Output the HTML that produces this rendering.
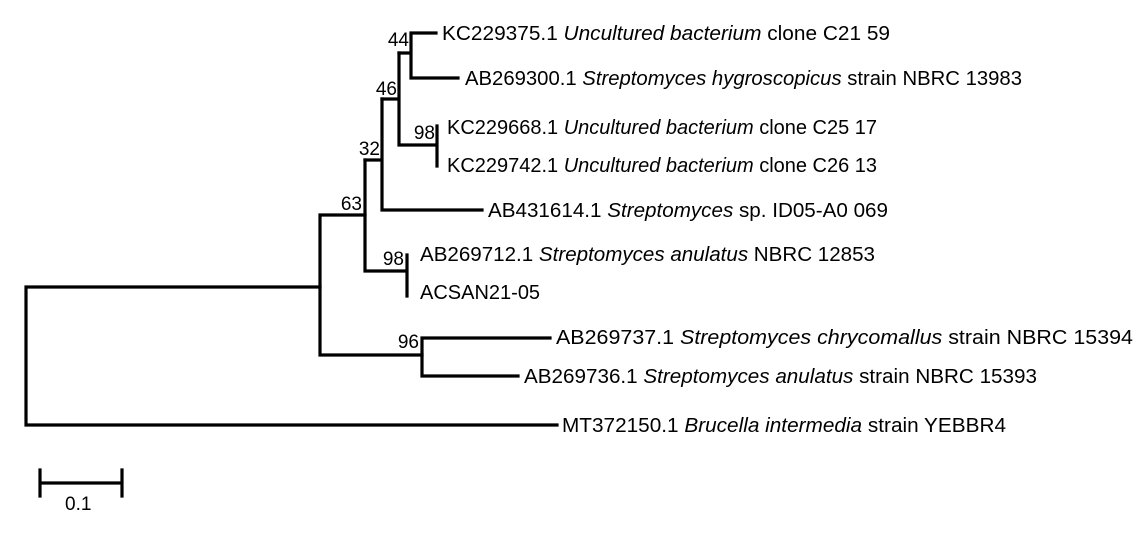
<!DOCTYPE html>
<html><head><meta charset="utf-8"><style>
html,body{margin:0;padding:0;background:#fff;}
svg{display:block;}
text{font-family:"Liberation Sans",Arial,sans-serif;font-size:20px;fill:#000;}
.n{text-anchor:end;font-size:19px;}
</style></head><body>
<svg width="1145" height="538" viewBox="0 0 1145 538" xmlns="http://www.w3.org/2000/svg">
<g stroke="#000" stroke-width="3.2" fill="none" stroke-linecap="square">
<path d="M26 287 V425 M26 287 H320 M26 425 H557"/>
<path d="M320 215 V355 M320 215 H365 M320 355 H422"/>
<path d="M422 338 V376 M422 338 H550 M422 376 H518"/>
<path d="M365 160 V271 M365 271 H407 M407 255 V296"/>
<path d="M365 160 H382 M382 99 V210 M382 210 H482"/>
<path d="M382 99 H399 M399 53 V145 M399 145 H437 M437 126 V166"/>
<path d="M399 53 H411 M411 33 V78 M411 33 H436 M411 78 H458"/>
<path d="M40 483 H122 M40 470 V496 M122 470 V496"/>
</g>
<g>
<text class="n" x="409" y="46">44</text>
<text class="n" x="397" y="95">46</text>
<text class="n" x="380" y="155">32</text>
<text class="n" x="362" y="210">63</text>
<text class="n" x="435" y="139">98</text>
<text class="n" x="404" y="265">98</text>
<text class="n" x="419" y="348">96</text>

<text x="442" y="40" textLength="448" lengthAdjust="spacingAndGlyphs">KC229375.1 <tspan font-style="italic">Uncultured bacterium</tspan> clone C21 59</text>
<text x="465" y="85" textLength="557" lengthAdjust="spacingAndGlyphs">AB269300.1 <tspan font-style="italic">Streptomyces hygroscopicus</tspan> strain NBRC 13983</text>
<text x="447" y="134" textLength="430" lengthAdjust="spacingAndGlyphs">KC229668.1 <tspan font-style="italic">Uncultured bacterium</tspan> clone C25 17</text>
<text x="447" y="172" textLength="430" lengthAdjust="spacingAndGlyphs">KC229742.1 <tspan font-style="italic">Uncultured bacterium</tspan> clone C26 13</text>
<text x="488" y="217" textLength="400" lengthAdjust="spacingAndGlyphs">AB431614.1 <tspan font-style="italic">Streptomyces</tspan> sp. ID05-A0 069</text>
<text x="420" y="261" textLength="455" lengthAdjust="spacingAndGlyphs">AB269712.1 <tspan font-style="italic">Streptomyces anulatus</tspan> NBRC 12853</text>
<text x="420" y="299">ACSAN21-05</text>
<text x="556" y="344" textLength="577" lengthAdjust="spacingAndGlyphs">AB269737.1 <tspan font-style="italic">Streptomyces chrycomallus</tspan> strain NBRC 15394</text>
<text x="524" y="383" textLength="513" lengthAdjust="spacingAndGlyphs">AB269736.1 <tspan font-style="italic">Streptomyces anulatus</tspan> strain NBRC 15393</text>
<text x="562" y="432" textLength="444" lengthAdjust="spacingAndGlyphs">MT372150.1 <tspan font-style="italic">Brucella intermedia</tspan> strain YEBBR4</text>
<text x="65" y="510" style="font-size:19px">0.1</text>
</g>
</svg>
</body></html>
